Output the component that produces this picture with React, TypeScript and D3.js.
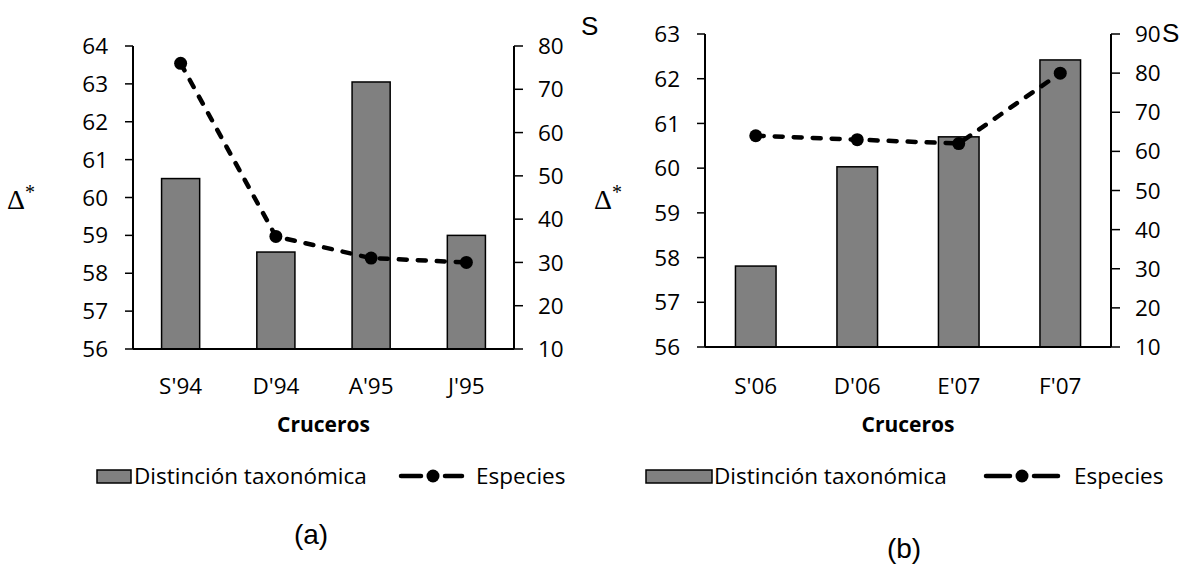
import React from "react";
import * as d3 from "d3";

// Panel (a): 1994–1995 cruises
const cruisesA = ["S'94", "D'94", "A'95", "J'95"];
const distinctionA = [60.5, 58.56, 63.05, 59.0];
const speciesA = [76, 36, 31, 30];
const leftTicksA = [56, 57, 58, 59, 60, 61, 62, 63, 64];
const rightTicksA = [10, 20, 30, 40, 50, 60, 70, 80];

// Panel (b): 2006–2007 cruises
const cruisesB = ["S'06", "D'06", "E'07", "F'07"];
const distinctionB = [57.81, 60.03, 60.7, 62.42];
const speciesB = [64, 63, 62, 80];
const leftTicksB = [56, 57, 58, 59, 60, 61, 62, 63];
const rightTicksB = [10, 20, 30, 40, 50, 60, 70, 80, 90];

const SANS = "'Open Sans', 'Noto Sans', sans-serif";
const ARIAL = "'Liberation Sans', Arial, sans-serif";
const SERIF = "'Liberation Serif', 'DejaVu Serif', serif";
const BAR_FILL = "#808080";
const DASH = "8 11";
const FS = 22.5;

type PanelProps = {
  cats: string[];
  bars: number[];
  line: number[];
  leftTicks: number[];
  rightTicks: number[];
  frame: { left: number; right: number; top: number; bottom: number };
  deltaX: number;
  sLabel: { x: number; y: number };
  catY: number;
  titleY: number;
  legend: {
    y: number;
    swatchX: number;
    swatchW: number;
    textX: number;
    lineX0: number;
    lineX1: number;
    markerX: number;
    speciesX: number;
  };
  tag: { text: string; x: number; y: number };
};

function Panel(p: PanelProps) {
  const { left, right, top, bottom } = p.frame;
  const x = d3.scaleBand<string>().domain(p.cats).range([left, right]).paddingInner(0.6).paddingOuter(0.3);
  const yL = d3.scaleLinear().domain(d3.extent(p.leftTicks) as [number, number]).range([bottom, top]);
  const yR = d3.scaleLinear().domain(d3.extent(p.rightTicks) as [number, number]).range([bottom, top]);
  const cx = (c: string) => (x(c) as number) + x.bandwidth() / 2;
  const linePath = d3
    .line<number>()
    .x((_, i) => cx(p.cats[i]))
    .y((d) => yR(d))(p.line) as string;
  const lg = p.legend;
  return (
    <g>
      {/* bars: taxonomic distinctness */}
      {p.cats.map((c, i) => (
        <rect
          key={c}
          x={x(c)}
          y={yL(p.bars[i])}
          width={x.bandwidth()}
          height={bottom - yL(p.bars[i])}
          fill={BAR_FILL}
          stroke="#000"
          strokeWidth={1.5}
        />
      ))}
      {/* axes */}
      <line x1={left} x2={left} y1={top} y2={bottom} stroke="#000" strokeWidth={2} />
      <line x1={right} x2={right} y1={top} y2={bottom} stroke="#000" strokeWidth={2} />
      <line x1={left} x2={right} y1={bottom} y2={bottom} stroke="#000" strokeWidth={2} />
      {p.leftTicks.map((t) => (
        <g key={"l" + t}>
          <line x1={left - 8} x2={left} y1={yL(t)} y2={yL(t)} stroke="#000" strokeWidth={1.5} />
          <text x={left - 25} y={yL(t)} dy="0.36em" textAnchor="end" fontFamily={SANS} fontSize={FS} fill="#000">
            {t}
          </text>
        </g>
      ))}
      {p.rightTicks.map((t) => (
        <g key={"r" + t}>
          <line x1={right} x2={right + 9} y1={yR(t)} y2={yR(t)} stroke="#000" strokeWidth={1.5} />
          <text x={right + 24} y={yR(t)} dy="0.36em" textAnchor="start" fontFamily={SANS} fontSize={FS} fill="#000">
            {t}
          </text>
        </g>
      ))}
      {/* species line */}
      <path d={linePath} fill="none" stroke="#000" strokeWidth={4.5} strokeDasharray={DASH} strokeLinecap="round" />
      {p.line.map((v, i) => (
        <circle key={i} cx={cx(p.cats[i])} cy={yR(v)} r={6.5} fill="#000" />
      ))}
      {/* category labels */}
      {p.cats.map((c) => (
        <text key={"c" + c} x={cx(c)} y={p.catY} textAnchor="middle" fontFamily={SANS} fontSize={FS} fill="#000">
          {c}
        </text>
      ))}
      <text x={(left + right) / 2} y={p.titleY} textAnchor="middle" fontFamily={SANS} fontWeight="bold" fontSize={21} fill="#000">
        Cruceros
      </text>
      {/* axis titles */}
      <text x={p.deltaX} y={209} fontFamily={SERIF} fontSize={28} fill="#000">
        Δ<tspan fontSize={20} dy={-10}>*</tspan>
      </text>
      <text x={p.sLabel.x} y={p.sLabel.y} fontFamily={ARIAL} fontSize={26} fill="#000">
        S
      </text>
      {/* legend */}
      <rect x={lg.swatchX} y={lg.y - 14} width={lg.swatchW} height={13} fill={BAR_FILL} stroke="#000" strokeWidth={1.5} />
      <text x={lg.textX} y={lg.y} fontFamily={SANS} fontSize={FS} fill="#000">
        Distinción taxonómica
      </text>
      <line x1={lg.lineX0} x2={lg.markerX - 12} y1={lg.y - 8} y2={lg.y - 8} stroke="#000" strokeWidth={4.5} strokeLinecap="round" />
      <line x1={lg.markerX + 12} x2={lg.lineX1} y1={lg.y - 8} y2={lg.y - 8} stroke="#000" strokeWidth={4.5} strokeLinecap="round" />
      <circle cx={lg.markerX} cy={lg.y - 8} r={6.5} fill="#000" />
      <text x={lg.speciesX} y={lg.y} fontFamily={SANS} fontSize={FS} fill="#000">
        Especies
      </text>
      <text x={p.tag.x} y={p.tag.y} textAnchor="middle" fontFamily={ARIAL} fontSize={28} fill="#000">
        {p.tag.text}
      </text>
    </g>
  );
}

export default function App() {
  return (
    <svg
      width={1183}
      height={565}
      viewBox="0 0 1183 565"
      style={{ position: "absolute", left: 0, top: 0, background: "#fff", display: "block" }}
    >
      <rect width={1183} height={565} fill="#fff" />
      <Panel
        cats={cruisesA}
        bars={distinctionA}
        line={speciesA}
        leftTicks={leftTicksA}
        rightTicks={rightTicksA}
        frame={{ left: 133, right: 514, top: 46, bottom: 349 }}
        deltaX={7}
        sLabel={{ x: 581, y: 35 }}
        catY={394}
        titleY={432}
        legend={{ y: 484, swatchX: 97, swatchW: 34, textX: 134, lineX0: 401, lineX1: 462, markerX: 433, speciesX: 476 }}
        tag={{ text: "(a)", x: 311, y: 544 }}
      />
      <Panel
        cats={cruisesB}
        bars={distinctionB}
        line={speciesB}
        leftTicks={leftTicksB}
        rightTicks={rightTicksB}
        frame={{ left: 705, right: 1111, top: 34, bottom: 347 }}
        deltaX={594}
        sLabel={{ x: 1162, y: 42 }}
        catY={394}
        titleY={432}
        legend={{ y: 484, swatchX: 646, swatchW: 66, textX: 714, lineX0: 986, lineX1: 1058, markerX: 1022, speciesX: 1074 }}
        tag={{ text: "(b)", x: 904, y: 558 }}
      />
    </svg>
  );
}
